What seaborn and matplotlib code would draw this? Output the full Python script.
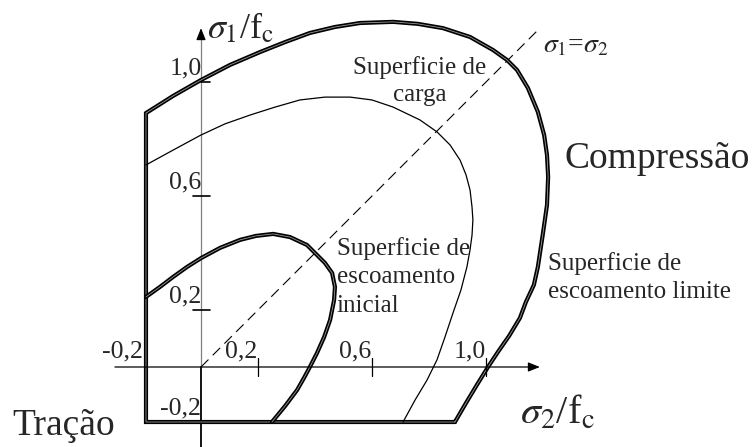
import matplotlib
matplotlib.use("Agg")
import matplotlib.pyplot as plt
import seaborn as sns

sns.set_theme(style="white")
plt.rcParams["font.family"] = ["Liberation Serif", "DejaVu Serif"]
plt.rcParams["mathtext.fontset"] = "stix"

# Limit (failure) surface, sigma2/fc vs sigma1/fc, traced as one closed outline
outer_s2 = [0.891, -0.193, -0.193, -0.098, 0.000, 0.102, 0.207, 0.295, 0.382, 0.470,
            0.558, 0.674, 0.761, 0.849, 0.944, 1.025, 1.074, 1.109, 1.147, 1.182,
            1.204, 1.214, 1.218, 1.214, 1.200, 1.182, 1.168, 1.140, 1.119, 1.081,
            1.042, 1.007, 0.968, 0.930, 0.891]
outer_s1 = [-0.193, -0.193, 0.891, 0.951, 1.007, 1.060, 1.105, 1.140, 1.172, 1.193,
            1.207, 1.211, 1.204, 1.189, 1.158, 1.112, 1.077, 1.042, 0.979, 0.895,
            0.814, 0.744, 0.667, 0.568, 0.470, 0.351, 0.288, 0.228, 0.172, 0.109,
            0.053, 0.000, -0.063, -0.126, -0.193]

# Loading surface
carga_s2 = [-0.193, -0.098, 0.000, 0.084, 0.172, 0.260, 0.347, 0.435, 0.523, 0.600,
            0.674, 0.768, 0.828, 0.874, 0.909, 0.930, 0.944, 0.951, 0.954, 0.951,
            0.944, 0.933, 0.912, 0.884, 0.856, 0.828, 0.793, 0.751, 0.709]
carga_s1 = [0.709, 0.761, 0.814, 0.853, 0.884, 0.912, 0.937, 0.947, 0.947, 0.937,
            0.912, 0.867, 0.825, 0.779, 0.726, 0.674, 0.621, 0.561, 0.516, 0.463,
            0.411, 0.351, 0.270, 0.189, 0.105, 0.025, -0.046, -0.116, -0.193]

# Initial yield surface
inicial_s2 = [-0.193, -0.144, -0.098, -0.049, 0.000, 0.067, 0.137, 0.193, 0.253, 0.312,
              0.372, 0.407, 0.435, 0.460, 0.470, 0.467, 0.453, 0.432, 0.407, 0.382,
              0.361, 0.337, 0.295, 0.249]
inicial_s1 = [0.246, 0.281, 0.316, 0.351, 0.382, 0.418, 0.446, 0.460, 0.467, 0.456,
              0.428, 0.393, 0.365, 0.330, 0.281, 0.235, 0.165, 0.105, 0.049, 0.000,
              -0.039, -0.081, -0.137, -0.193]

x_ticks = [0.2, 0.6, 1.0]
x_tick_labels = ["0,2", "0,6", "1,0"]
y_ticks = [0.2, 0.6, 1.0]
y_tick_labels = ["0,2", "0,6", "1,0"]

fig = plt.figure(figsize=(7.52, 4.47), dpi=100)
ax = fig.add_axes([0, 0, 1, 1])
ax.set_xlim(-201 / 285, 551 / 285)
ax.set_ylim(-80 / 285, 367 / 285)
ax.axis("off")


def heavy_curve(xs, ys):
    sns.lineplot(x=xs, y=ys, sort=False, estimator=None, ax=ax, color="black",
                 lw=3.0, legend=False, solid_joinstyle="miter")
    sns.lineplot(x=xs, y=ys, sort=False, estimator=None, ax=ax, color="#9a9a9a",
                 lw=0.6, legend=False)


# Axes of the stress plane
ax.plot([0, 0], [0, 1.15], color="#808080", lw=0.9, zorder=1)
ax.plot([0, 0], [0, -0.29], color="black", lw=1.3, zorder=1)
ax.annotate("", xy=(0, 1.189), xytext=(0, 1.15),
            arrowprops=dict(arrowstyle="-|>,head_length=0.5,head_width=0.2",
                            color="black", lw=0.9, mutation_scale=14,
                            shrinkA=0, shrinkB=0))
ax.annotate("", xy=(1.189, 0), xytext=(-0.302, 0),
            arrowprops=dict(arrowstyle="-|>,head_length=0.5,head_width=0.2",
                            color="black", lw=0.9, mutation_scale=14,
                            shrinkA=0, shrinkB=0))

# Equal biaxial stress line
ax.plot([0, 1.18], [0, 1.18], color="black", lw=0.8, dashes=(9.5, 5.4))

heavy_curve(outer_s2, outer_s1)
heavy_curve(inicial_s2, inicial_s1)
sns.lineplot(x=carga_s2, y=carga_s1, sort=False, estimator=None, ax=ax,
             color="black", lw=0.9, legend=False)

# Tick marks and labels
tick_fs = 18.5
for xv, lab in zip(x_ticks, x_tick_labels):
    ax.plot([xv, xv], [0.032, -0.032], color="black", lw=0.9)
    ax.text(xv - 0.002, 0.033, lab, ha="right", va="baseline", fontsize=tick_fs)
for yv, lab in zip(y_ticks, y_tick_labels):
    x0 = 0.0 if yv == 1.0 else -0.028
    ax.plot([x0, 0.032], [yv, yv], color="black", lw=1.2)
    ax.text(0.002, yv + 0.026, lab, ha="right", va="baseline", fontsize=tick_fs)
ax.text(-0.204, 0.033, "-0,2", ha="right", va="baseline", fontsize=tick_fs)
ax.text(-0.002, -0.165, "-0,2", ha="right", va="baseline", fontsize=tick_fs)

# Axis titles
ax.text(0.022, 1.154, r"$\sigma_1$/f$_{\rm c}$", ha="left", va="baseline", fontsize=26)
ax.text(1.12, -0.2, r"$\sigma_2$/f$_{\rm c}$", ha="left", va="baseline", fontsize=29)
ax.text(1.2, 1.105, r"$\sigma_1$=$\sigma_2$", ha="left", va="baseline", fontsize=20)

# Surface labels
lab_fs = 18
ax.text(0.768, 1.028, "Superficie de", ha="center", va="baseline", fontsize=lab_fs)
ax.text(0.768, 0.933, "carga", ha="center", va="baseline", fontsize=lab_fs)
for yb, line in zip([0.393, 0.295, 0.193], ["Superficie de", "escoamento", "inicial"]):
    ax.text(0.477, yb, line, ha="left", va="baseline", fontsize=lab_fs)
for yb, line in zip([0.340, 0.242], ["Superficie de", "escoamento limite"]):
    ax.text(1.218, yb, line, ha="left", va="baseline", fontsize=lab_fs)

ax.text(1.277, 0.698, "Compressão", ha="left", va="baseline", fontsize=27)
ax.text(-0.663, -0.239, "Tração", ha="left", va="baseline", fontsize=27)

fig.savefig("out.png", dpi=100)
